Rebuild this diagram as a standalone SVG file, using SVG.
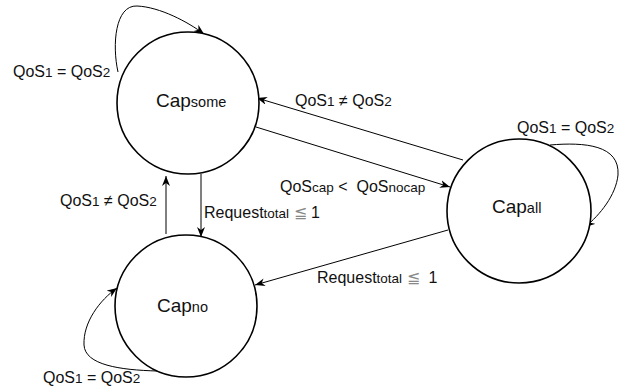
<svg xmlns="http://www.w3.org/2000/svg" width="632" height="392" viewBox="0 0 632 392">
<style>
.st{fill:#fff;stroke:#000;stroke-width:1.6}
.cn{fill:none;stroke:#000;stroke-width:1}
.lbl{font-family:"Liberation Sans",Arial,sans-serif;font-size:16px;fill:#111}
.nm{font-family:"Liberation Sans",Arial,sans-serif;font-size:19px;fill:#111}
.sb{font-size:13.5px}
.sbn{font-size:14.5px}
.le{fill:#888}
</style>
<defs>
<marker id="ah" markerWidth="11" markerHeight="8" refX="10" refY="4" orient="auto" markerUnits="userSpaceOnUse">
<path d="M0,0 L10,4 L0,8 L3,4 z" fill="#000"/>
</marker>
</defs>
<g id="connectors">
<path class="cn" d="M118,72 C112,45 115,5 137,6 C160,7 188,22 204,34" marker-end="url(#ah)"/>
<path class="cn" d="M550,145 C585,142 620,145 618,175 C616,195 600,215 585,227" marker-end="url(#ah)"/>
<path class="cn" d="M157,371 C120,370 85,365 84,345 C83,322 100,300 117,288" marker-end="url(#ah)"/>
<path class="cn" d="M463,160 L257,98" marker-end="url(#ah)"/>
<path class="cn" d="M256,127 L450,187" marker-end="url(#ah)"/>
<path class="cn" d="M448,230 L255,285" marker-end="url(#ah)"/>
<path class="cn" d="M166,234 L166,176" marker-end="url(#ah)"/>
<path class="cn" d="M201,174 L201,237" marker-end="url(#ah)"/>
<text class="lbl" x="13" y="77">QoS<tspan class="sb">1</tspan> = QoS<tspan class="sb">2</tspan></text>
<text class="lbl" x="295" y="106">QoS<tspan class="sb">1</tspan> ≠ QoS<tspan class="sb">2</tspan></text>
<text class="lbl" x="517" y="133">QoS<tspan class="sb">1</tspan> = QoS<tspan class="sb">2</tspan></text>
<text class="lbl" x="280" y="192">QoS<tspan class="sb">cap</tspan> &lt;&#160; QoS<tspan class="sb">nocap</tspan></text>
<text class="lbl" x="60" y="206">QoS<tspan class="sb">1</tspan> ≠ QoS<tspan class="sb">2</tspan></text>
<text class="lbl" x="204" y="218">Request<tspan class="sb">total</tspan> <tspan class="le">≦</tspan> 1</text>
<text class="lbl" x="317" y="283">Request<tspan class="sb">total</tspan> <tspan class="le">≦</tspan>&#160; 1</text>
<text class="lbl" x="43" y="383">QoS<tspan class="sb">1</tspan> = QoS<tspan class="sb">2</tspan></text>
</g>
<g id="cap-some">
<circle class="st" cx="188" cy="103" r="71"/>
<text class="nm" x="156" y="107">Cap<tspan class="sbn">some</tspan></text>
</g>
<g id="cap-all">
<circle class="st" cx="519" cy="211" r="72"/>
<text class="nm" x="492" y="213">Cap<tspan class="sbn">all</tspan></text>
</g>
<g id="cap-no">
<circle class="st" cx="186" cy="306" r="71"/>
<text class="nm" x="157" y="312">Cap<tspan class="sbn">no</tspan></text>
</g>
</svg>
